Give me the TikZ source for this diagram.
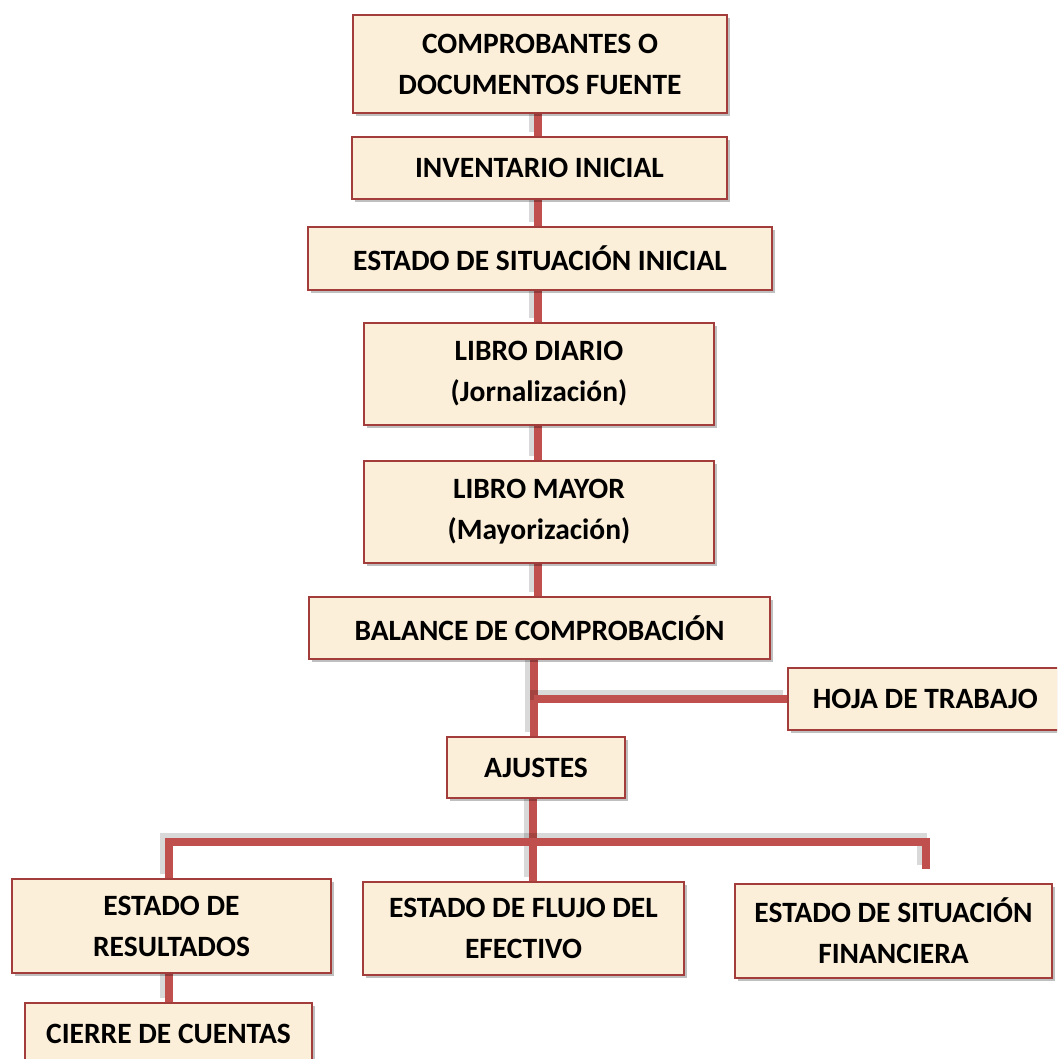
\documentclass[tikz,border=0pt]{standalone}
\usepackage{fontspec}
\setmainfont{Carlito}
\usetikzlibrary{shadows}
\definecolor{boxfill}{HTML}{FCEFD9}
\definecolor{boxline}{HTML}{A33D3B}
\definecolor{connc}{HTML}{C0504D}
\pgfdeclarelayer{bg}
\pgfsetlayers{bg,main}
\begin{document}
\begin{tikzpicture}[x=1pt,y=-1pt,
  box/.style={draw=boxline, line width=1.6pt, fill=boxfill, align=center, inner sep=0pt,
    font=\fontsize{29.5}{41}\selectfont\bfseries,
    drop shadow={shadow xshift=3pt, shadow yshift=-3pt, opacity=0.25, fill=black}},
  conn/.style={draw=connc, line width=8pt,
    preaction={draw=black, opacity=0.15, line width=10pt, transform canvas={xshift=-4pt, yshift=4pt}}}
]
\useasboundingbox (0,0) rectangle (1057,1059);
\clip (0,0) rectangle (1057,1059);

\node[box, minimum width=374pt, minimum height=98pt] (n1) at (540,64) {COMPROBANTES O\\DOCUMENTOS FUENTE};
\node[box, minimum width=375pt, minimum height=62pt] (n2) at (539.5,168) {INVENTARIO INICIAL};
\node[box, minimum width=464pt, minimum height=63pt] (n3) at (540,258.5) {ESTADO DE SITUACIÓN INICIAL};
\node[box, minimum width=350pt, minimum height=102pt] (n4) at (539,374) {LIBRO DIARIO\\(Jornalización)};
\node[box, minimum width=350pt, minimum height=102pt] (n5) at (539,512) {LIBRO MAYOR\\(Mayorización)};
\node[box, minimum width=461pt, minimum height=62pt] (n6) at (539.5,628) {BALANCE DE COMPROBACIÓN};
\node[box, anchor=west, text width=270pt, align=flush left, inner xsep=25pt, minimum height=62pt] (hoja) at (787,699) {HOJA DE TRABAJO};
\node[box, minimum width=178pt, minimum height=61pt] (aj) at (536,767.5) {AJUSTES};
\node[box, minimum width=319pt, minimum height=94pt] (res) at (171.5,926) {ESTADO DE\\RESULTADOS};
\node[box, minimum width=321pt, minimum height=93pt] (flujo) at (523.5,928.5) {ESTADO DE FLUJO DEL\\EFECTIVO};
\node[box, minimum width=317pt, minimum height=94pt] (fin) at (893.5,931) {ESTADO DE SITUACIÓN\\FINANCIERA};
\node[box, minimum width=287pt, minimum height=62pt] (cierre) at (168.5,1034) {CIERRE DE CUENTAS};

\coordinate (t1) at (538,0);
\coordinate (t2) at (534,0);
\coordinate (t3) at (533,0);
\coordinate (lx) at (169,0);
\coordinate (bus) at (0,842);
\coordinate (rend) at (926,869);

\begin{pgfonlayer}{bg}
\draw[conn] (n1.south -| t1) -- (n2.north -| t1);
\draw[conn] (n2.south -| t1) -- (n3.north -| t1);
\draw[conn] (n3.south -| t1) -- (n4.north -| t1);
\draw[conn] (n4.south -| t1) -- (n5.north -| t1);
\draw[conn] (n5.south -| t1) -- (n6.north -| t1);
\draw[conn] (n6.south -| t2) -- (aj.north -| t2);
\draw[conn] (t2 |- hoja.west) -- (hoja.west);
\draw[conn] (aj.south -| t3) -- (flujo.north -| t3);
\draw[conn] (res.north -| lx) -- (lx |- bus) -- (rend |- bus) -- (rend);
\draw[conn] (res.south -| lx) -- (cierre.north -| lx);
\end{pgfonlayer}
\end{tikzpicture}
\end{document}
